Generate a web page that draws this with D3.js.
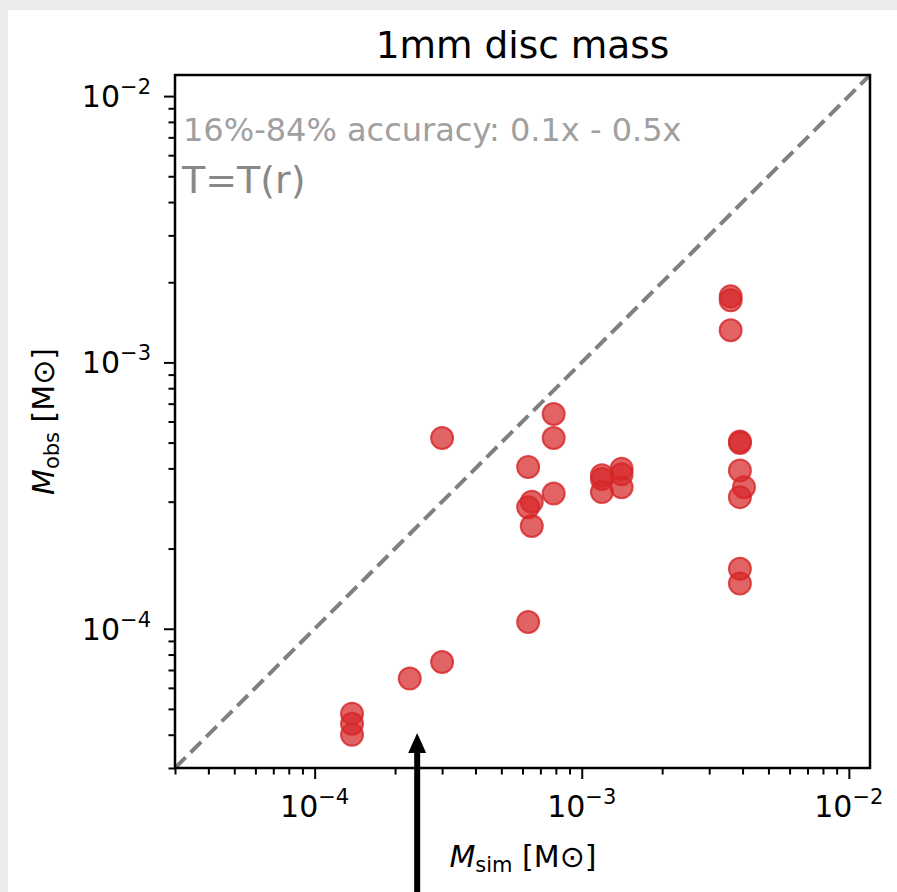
<!DOCTYPE html>
<html>
<head>
<meta charset="utf-8">
<script src="https://cdn.jsdelivr.net/npm/d3@7"></script>
<style>
  html, body { margin: 0; padding: 0; background: #ebebeb; }
  svg { display: block; font-family: "DejaVu Sans", sans-serif; }
</style>
</head>
<body>
<svg id="chart" width="897" height="892"></svg>
<script>
// ---- data ----
const title = "1mm disc mass";
const noteAccuracy = "16%-84% accuracy: 0.1x - 0.5x";
const noteModel = "T=T(r)";
const xDomain = [3e-5, 1.2e-2];
const yDomain = [3e-5, 1.2e-2];
const majorTickExponents = [-4, -3, -2];
const majorTickLabels = ["10", "10", "10"];
const majorTickSup = ["\u22124", "\u22123", "\u22122"];
const yMajorTickExponents = [-4, -3, -2];
const mSim = [
  3.0e-4, 3.0e-4, 2.27e-4,
  1.38e-4, 1.38e-4, 1.38e-4,
  6.3e-4, 6.5e-4, 6.3e-4, 6.5e-4, 6.3e-4,
  7.85e-4, 7.85e-4, 7.85e-4,
  1.19e-3, 1.19e-3, 1.19e-3,
  1.41e-3, 1.41e-3, 1.41e-3,
  3.61e-3, 3.61e-3, 3.61e-3,
  3.91e-3, 3.91e-3, 3.91e-3, 3.91e-3, 3.91e-3, 3.91e-3,
  4.05e-3
];
const mObs = [
  5.2e-4, 7.5e-5, 6.5e-5,
  4.8e-5, 4.4e-5, 4.0e-5,
  4.05e-4, 3.0e-4, 2.86e-4, 2.43e-4, 1.06e-4,
  6.4e-4, 5.2e-4, 3.22e-4,
  3.77e-4, 3.65e-4, 3.26e-4,
  3.99e-4, 3.80e-4, 3.40e-4,
  1.77e-3, 1.71e-3, 1.32e-3,
  5.05e-4, 4.98e-4, 3.93e-4, 3.12e-4, 1.68e-4, 1.48e-4,
  3.40e-4
];

// ---- layout ----
const svg = d3.select("#chart");
const W = 897, H = 892;
const plot = { left: 175, top: 75, right: 870, bottom: 768 };

svg.append("rect").attr("x", 8).attr("y", 10).attr("width", W - 8).attr("height", H - 10).attr("fill", "#ffffff");

const x = d3.scaleLog().domain(xDomain).range([plot.left, plot.right]);
const y = d3.scaleLog().domain(yDomain).range([plot.bottom, plot.top]);

function minorTicks(domain) {
  const out = [];
  for (let e = -6; e <= -1; e++) {
    for (let m = 2; m <= 9; m++) {
      const v = m * Math.pow(10, e);
      if (v >= domain[0] && v <= domain[1]) out.push(v);
    }
  }
  return out;
}
const majorX = majorTickExponents.map(e => Math.pow(10, e));
const majorY = yMajorTickExponents.map(e => Math.pow(10, e));

// diagonal 1:1 line
const diag = [Math.max(xDomain[0], yDomain[0]), Math.min(xDomain[1], yDomain[1])];
svg.append("line")
  .attr("x1", x(diag[0])).attr("y1", y(diag[0]))
  .attr("x2", x(diag[1])).attr("y2", y(diag[1]))
  .attr("stroke", "#808080").attr("stroke-width", 4)
  .attr("stroke-dasharray", "15,7");

// points
const pts = mSim.map((v, i) => ({ x: v, y: mObs[i] }));
svg.append("g").selectAll("circle").data(pts).join("circle")
  .attr("cx", d => x(d.x)).attr("cy", d => y(d.y)).attr("r", 11)
  .attr("fill", "#d62728").attr("fill-opacity", 0.72)
  .attr("stroke", "#d62728").attr("stroke-opacity", 0.8).attr("stroke-width", 2);

// axes
const xAxisMinor = d3.axisBottom(x).tickValues(minorTicks(xDomain)).tickSize(6.5).tickFormat("");
const xAxisMajor = d3.axisBottom(x).tickValues(majorX).tickSize(11).tickFormat("");
const yAxisMinor = d3.axisLeft(y).tickValues(minorTicks(yDomain)).tickSize(6.5).tickFormat("");
const yAxisMajor = d3.axisLeft(y).tickValues(majorY).tickSize(11).tickFormat("");

function styleAxis(g) {
  g.select(".domain").remove();
  g.selectAll(".tick line").attr("stroke", "#000").attr("stroke-width", 2);
}
svg.append("g").attr("transform", `translate(0,${plot.bottom})`).call(xAxisMinor).call(styleAxis);
svg.append("g").attr("transform", `translate(0,${plot.bottom})`).call(xAxisMajor).call(styleAxis);
svg.append("g").attr("transform", `translate(${plot.left},0)`).call(yAxisMinor).call(styleAxis);
svg.append("g").attr("transform", `translate(${plot.left},0)`).call(yAxisMajor).call(styleAxis);

// frame
svg.append("rect")
  .attr("x", plot.left).attr("y", plot.top)
  .attr("width", plot.right - plot.left).attr("height", plot.bottom - plot.top)
  .attr("fill", "none").attr("stroke", "#000").attr("stroke-width", 2.5);

// tick labels
const tickFont = 30, supFont = 21;
majorX.forEach((v, i) => {
  const t = svg.append("text").attr("x", x(v)).attr("y", 817)
    .attr("text-anchor", "middle").attr("font-size", tickFont).attr("fill", "#000");
  t.append("tspan").text(majorTickLabels[i]);
  t.append("tspan").attr("font-size", supFont).attr("dy", -13).text(majorTickSup[i]);
});
majorY.forEach((v, i) => {
  const t = svg.append("text").attr("x", 151).attr("y", y(v) + 11)
    .attr("text-anchor", "end").attr("font-size", tickFont).attr("fill", "#000");
  t.append("tspan").text(majorTickLabels[i]);
  t.append("tspan").attr("font-size", supFont).attr("dy", -13).text(majorTickSup[i]);
});

// title
svg.append("text").attr("x", (plot.left + plot.right) / 2).attr("y", 58)
  .attr("text-anchor", "middle").attr("font-size", 37.5).attr("fill", "#000").text(title);

// notes
svg.append("text").attr("x", 183).attr("y", 141).attr("font-size", 32).attr("fill", "#a0a0a0").text(noteAccuracy);
svg.append("text").attr("x", 182).attr("y", 193).attr("font-size", 38).attr("fill", "#888888").text(noteModel);

// axis labels
const xl = svg.append("text").attr("x", 523).attr("y", 867).attr("text-anchor", "middle")
  .attr("font-size", 30).attr("fill", "#000");
xl.append("tspan").attr("font-style", "italic").text("M");
xl.append("tspan").attr("font-size", 21).attr("dy", 5).text("sim");
xl.append("tspan").attr("dy", -5).text(" [M\u2299]");

const yl = svg.append("text").attr("transform", `translate(54,${(plot.top + plot.bottom) / 2}) rotate(-90)`)
  .attr("text-anchor", "middle").attr("font-size", 30).attr("fill", "#000");
yl.append("tspan").attr("font-style", "italic").text("M");
yl.append("tspan").attr("font-size", 21).attr("dy", 5).text("obs");
yl.append("tspan").attr("dy", -5).text(" [M\u2299]");

// arrow (annotation pointing to the axis)
const arrowX = x(2.42e-4);
svg.append("line").attr("x1", arrowX).attr("x2", arrowX).attr("y1", H + 5).attr("y2", 750)
  .attr("stroke", "#000").attr("stroke-width", 6);
svg.append("path")
  .attr("d", `M${arrowX},733 L${arrowX - 9},753 L${arrowX + 9},753 Z`)
  .attr("fill", "#000");
</script>
</body>
</html>
